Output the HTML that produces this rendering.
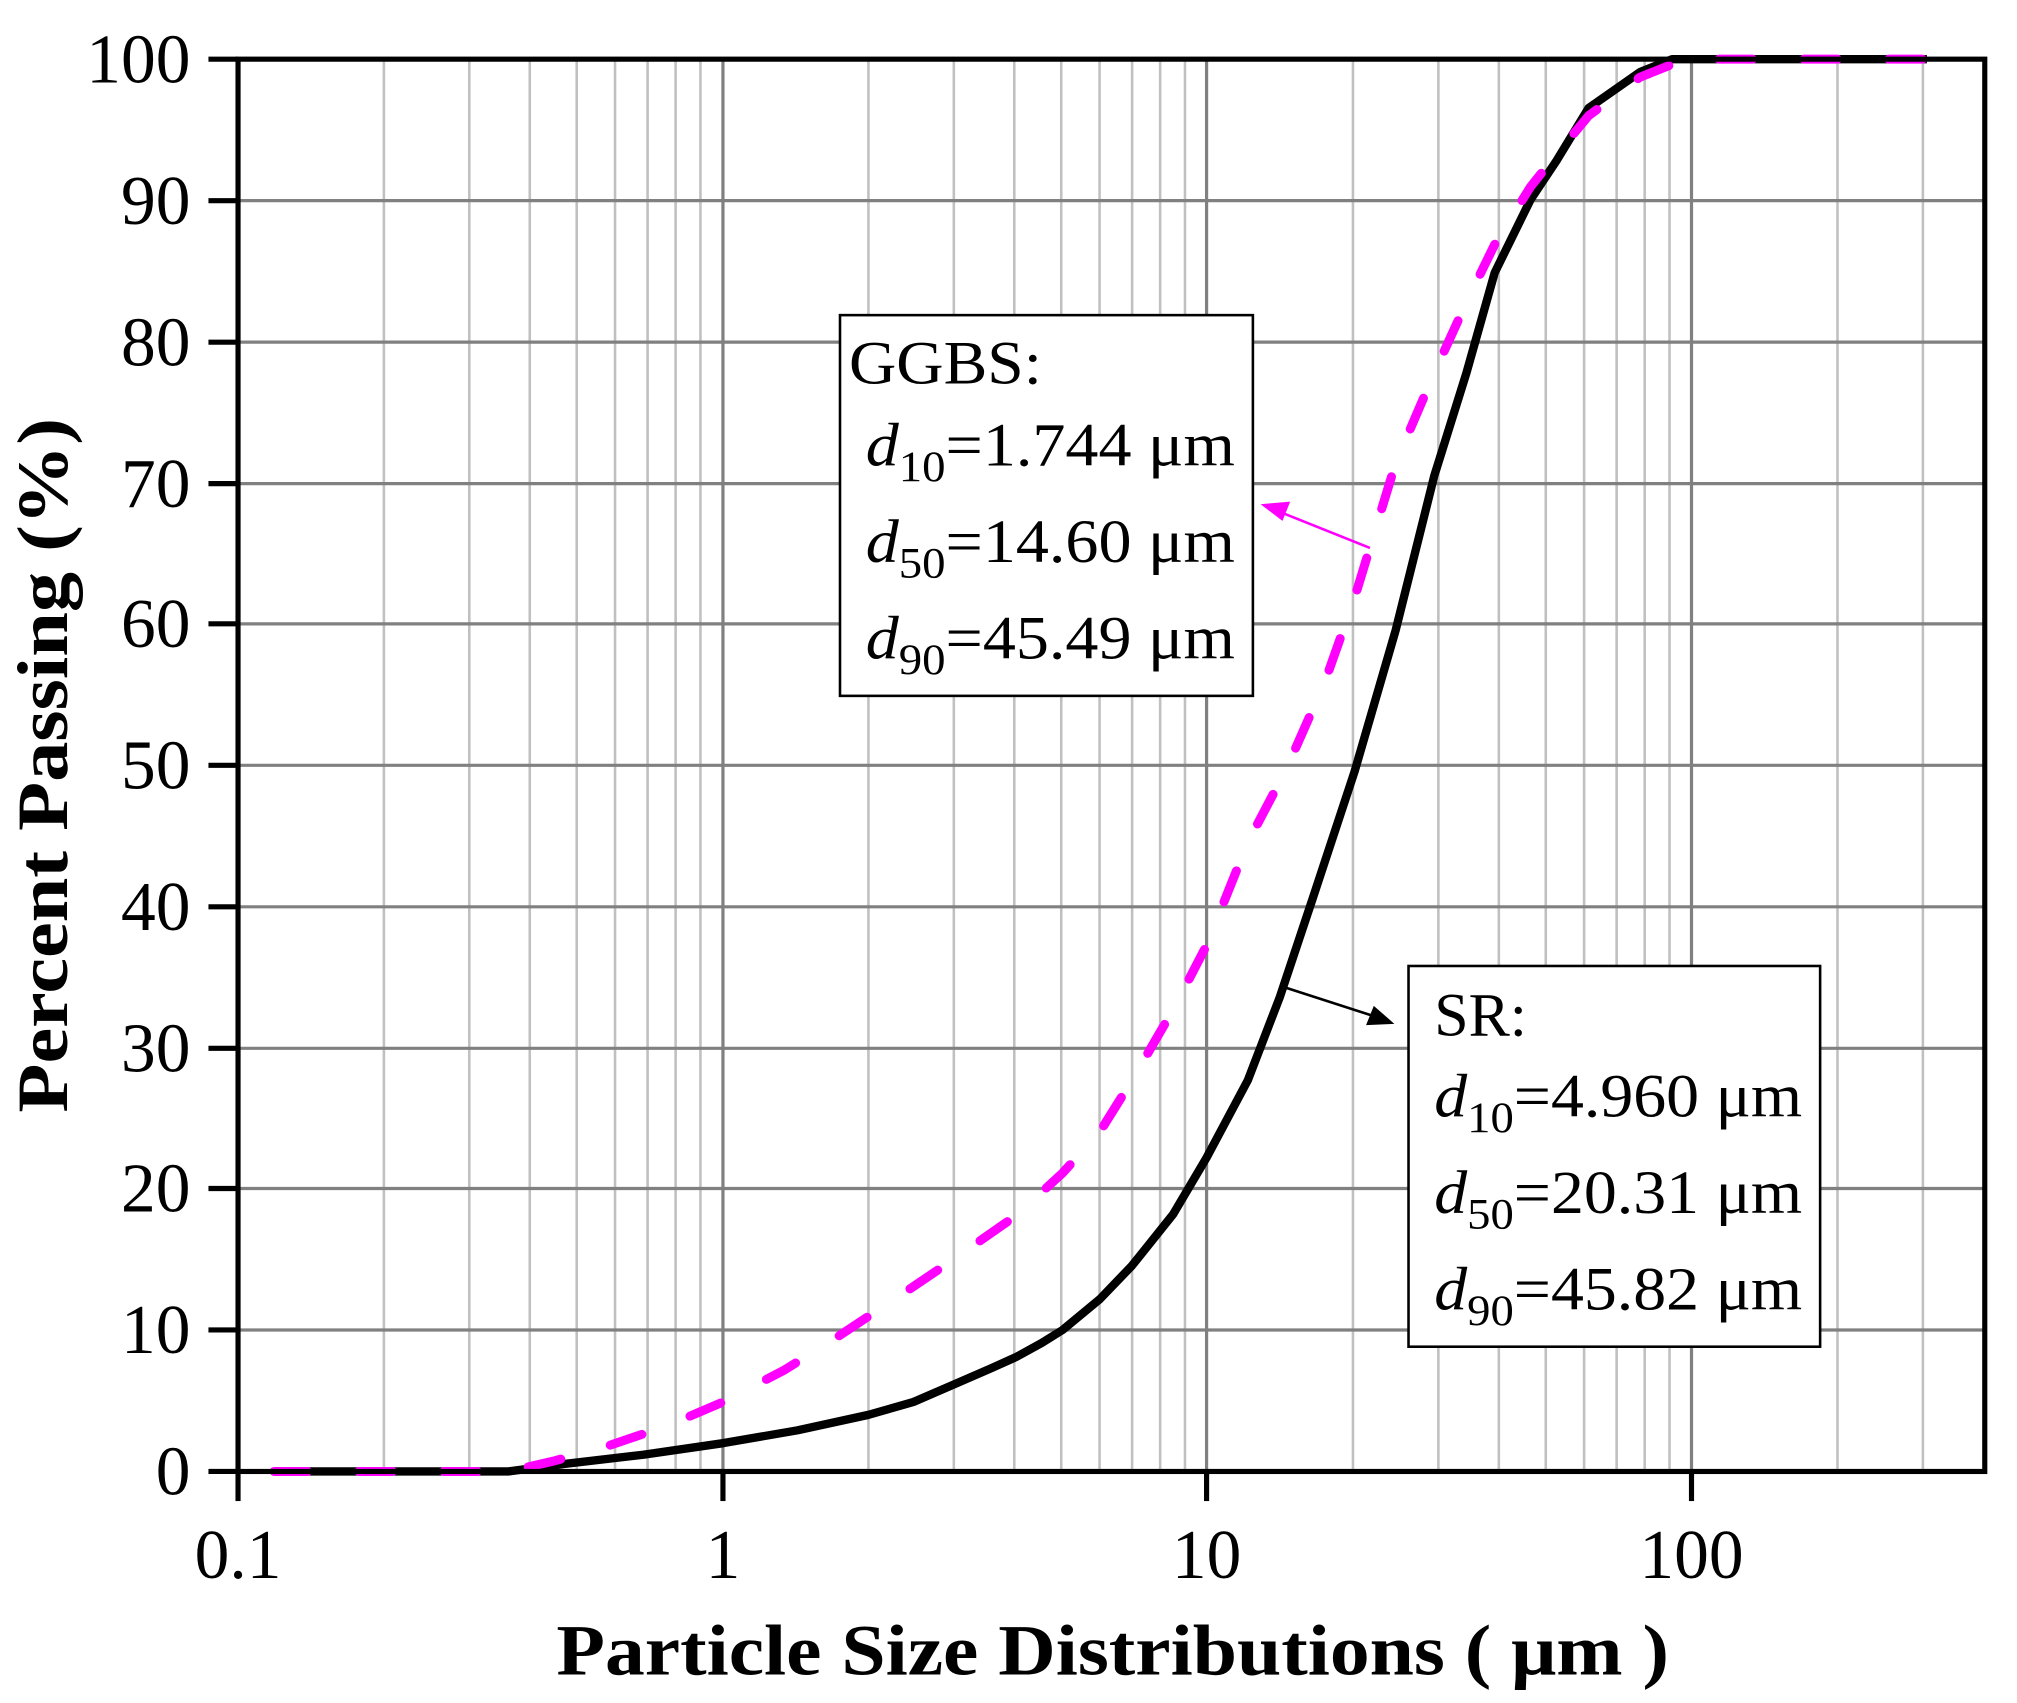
<!DOCTYPE html>
<html><head><meta charset="utf-8"><style>html,body{margin:0;padding:0;background:#fff}svg{display:block}</style></head>
<body>
<svg width="2017" height="1703" viewBox="0 0 1568 1324" xmlns="http://www.w3.org/2000/svg" font-family="'Liberation Serif', serif">
<rect width="1568" height="1324" fill="#fff"/>
<g stroke="#c0c0c0" stroke-width="2">
<line x1="298.4" y1="46" x2="298.4" y2="1144"/><line x1="364.8" y1="46" x2="364.8" y2="1144"/><line x1="411.8" y1="46" x2="411.8" y2="1144"/><line x1="448.3" y1="46" x2="448.3" y2="1144"/><line x1="478.1" y1="46" x2="478.1" y2="1144"/><line x1="503.4" y1="46" x2="503.4" y2="1144"/><line x1="525.2" y1="46" x2="525.2" y2="1144"/><line x1="544.5" y1="46" x2="544.5" y2="1144"/>
<line x1="675.1" y1="46" x2="675.1" y2="1144"/><line x1="741.5" y1="46" x2="741.5" y2="1144"/><line x1="788.5" y1="46" x2="788.5" y2="1144"/><line x1="825.0" y1="46" x2="825.0" y2="1144"/><line x1="854.8" y1="46" x2="854.8" y2="1144"/><line x1="880.1" y1="46" x2="880.1" y2="1144"/><line x1="901.9" y1="46" x2="901.9" y2="1144"/><line x1="921.2" y1="46" x2="921.2" y2="1144"/>
<line x1="1051.8" y1="46" x2="1051.8" y2="1144"/><line x1="1118.2" y1="46" x2="1118.2" y2="1144"/><line x1="1165.2" y1="46" x2="1165.2" y2="1144"/><line x1="1201.7" y1="46" x2="1201.7" y2="1144"/><line x1="1231.5" y1="46" x2="1231.5" y2="1144"/><line x1="1256.8" y1="46" x2="1256.8" y2="1144"/><line x1="1278.6" y1="46" x2="1278.6" y2="1144"/><line x1="1297.9" y1="46" x2="1297.9" y2="1144"/>
<line x1="1428.5" y1="46" x2="1428.5" y2="1144"/><line x1="1494.9" y1="46" x2="1494.9" y2="1144"/>
</g>
<g stroke="#808080" stroke-width="2.5">
<line x1="562" y1="46" x2="562" y2="1144"/><line x1="938" y1="46" x2="938" y2="1144"/><line x1="1315" y1="46" x2="1315" y2="1144"/>
<line x1="185" y1="156" x2="1543" y2="156"/><line x1="185" y1="266" x2="1543" y2="266"/><line x1="185" y1="376" x2="1543" y2="376"/><line x1="185" y1="485" x2="1543" y2="485"/><line x1="185" y1="595" x2="1543" y2="595"/><line x1="185" y1="705" x2="1543" y2="705"/><line x1="185" y1="815" x2="1543" y2="815"/><line x1="185" y1="924" x2="1543" y2="924"/><line x1="185" y1="1034" x2="1543" y2="1034"/>
</g>
<!-- SR -->
<polyline fill="none" stroke="#000" stroke-width="6.5" stroke-linejoin="round" points="213,1144 395,1144 440,1138 500,1131 562,1122 620,1112 675,1100 710,1090 740,1077 770,1064 790,1055 810,1044 826,1034 855,1010 880,984 912,944 938,900 970,840 995,775 1020,700 1053,600 1085,490 1115,370 1140,290 1162,212 1190,155 1210,125 1235,84 1275,56 1300,46 1498,46"/>
<!-- GGBS -->
<polyline fill="none" stroke="#ff00ff" stroke-width="7" stroke-linecap="round" stroke-linejoin="round" stroke-dasharray="26 40" points="213,1144 395,1144 430,1136 470,1125 520,1108 562,1090 610,1065 650,1040 700,1007 740,980 790,945 826,912 855,880 880,840 912,785 938,735 970,655 1000,598 1030,530 1053,465 1085,360 1115,290 1140,235 1162,190 1190,145 1210,120 1235,90 1275,60 1310,46 1498,46"/>
<!-- frame -->
<rect x="185" y="46" width="1358" height="1098" fill="none" stroke="#000" stroke-width="4"/>
<g stroke="#000" stroke-width="4">
<line x1="185" y1="1144" x2="185" y2="1167"/><line x1="562" y1="1144" x2="562" y2="1167"/><line x1="938" y1="1144" x2="938" y2="1167"/><line x1="1315" y1="1144" x2="1315" y2="1167"/>
<line x1="162" y1="46" x2="185" y2="46"/><line x1="162" y1="156" x2="185" y2="156"/><line x1="162" y1="266" x2="185" y2="266"/><line x1="162" y1="376" x2="185" y2="376"/><line x1="162" y1="485" x2="185" y2="485"/><line x1="162" y1="595" x2="185" y2="595"/><line x1="162" y1="705" x2="185" y2="705"/><line x1="162" y1="815" x2="185" y2="815"/><line x1="162" y1="924" x2="185" y2="924"/><line x1="162" y1="1034" x2="185" y2="1034"/><line x1="162" y1="1144" x2="185" y2="1144"/>
</g>
<g font-size="54" text-anchor="end" fill="#000">
<text x="148" y="64">100</text><text x="148" y="174">90</text><text x="148" y="284">80</text><text x="148" y="394">70</text><text x="148" y="503">60</text><text x="148" y="613">50</text><text x="148" y="723">40</text><text x="148" y="833">30</text><text x="148" y="942">20</text><text x="148" y="1052">10</text><text x="148" y="1162">0</text>
</g>
<g font-size="54" text-anchor="middle" fill="#000">
<text x="185" y="1227">0.1</text><text x="562" y="1227">1</text><text x="938" y="1227">10</text><text x="1315" y="1227">100</text>
</g>
<text x="865" y="1302" font-size="56" font-weight="bold" text-anchor="middle" textLength="865" lengthAdjust="spacingAndGlyphs">Particle Size Distributions ( μm )</text>
<text transform="translate(52,595) rotate(-90)" font-size="56" font-weight="bold" text-anchor="middle" textLength="540" lengthAdjust="spacingAndGlyphs">Percent Passing (%)</text>
<!-- GGBS box -->
<rect x="653" y="245" width="321" height="296" fill="#fff" stroke="#000" stroke-width="2"/>
<g font-size="48" fill="#000">
<text x="660" y="298" textLength="150" lengthAdjust="spacingAndGlyphs">GGBS:</text>
<text x="673" y="362" textLength="287" lengthAdjust="spacingAndGlyphs"><tspan font-style="italic">d</tspan><tspan font-size="34" dy="12">10</tspan><tspan dy="-12">=1.744 μm</tspan></text>
<text x="673" y="437" textLength="287" lengthAdjust="spacingAndGlyphs"><tspan font-style="italic">d</tspan><tspan font-size="34" dy="12">50</tspan><tspan dy="-12">=14.60 μm</tspan></text>
<text x="673" y="512" textLength="287" lengthAdjust="spacingAndGlyphs"><tspan font-style="italic">d</tspan><tspan font-size="34" dy="12">90</tspan><tspan dy="-12">=45.49 μm</tspan></text>
</g>
<!-- SR box -->
<rect x="1095" y="751" width="320" height="296" fill="#fff" stroke="#000" stroke-width="2"/>
<g font-size="48" fill="#000">
<text x="1115" y="805">SR:</text>
<text x="1115" y="868" textLength="286" lengthAdjust="spacingAndGlyphs"><tspan font-style="italic">d</tspan><tspan font-size="34" dy="12">10</tspan><tspan dy="-12">=4.960 μm</tspan></text>
<text x="1115" y="943" textLength="286" lengthAdjust="spacingAndGlyphs"><tspan font-style="italic">d</tspan><tspan font-size="34" dy="12">50</tspan><tspan dy="-12">=20.31 μm</tspan></text>
<text x="1115" y="1018" textLength="286" lengthAdjust="spacingAndGlyphs"><tspan font-style="italic">d</tspan><tspan font-size="34" dy="12">90</tspan><tspan dy="-12">=45.82 μm</tspan></text>
</g>
<!-- arrows -->
<line x1="1065" y1="426" x2="995" y2="398" stroke="#ff00ff" stroke-width="2"/>
<polygon points="980,392 1003,390 997,405" fill="#ff00ff"/>
<line x1="1000" y1="768" x2="1068" y2="790" stroke="#000" stroke-width="2"/>
<polygon points="1084,796 1062,797 1068,782" fill="#000"/>
</svg>
</body></html>
